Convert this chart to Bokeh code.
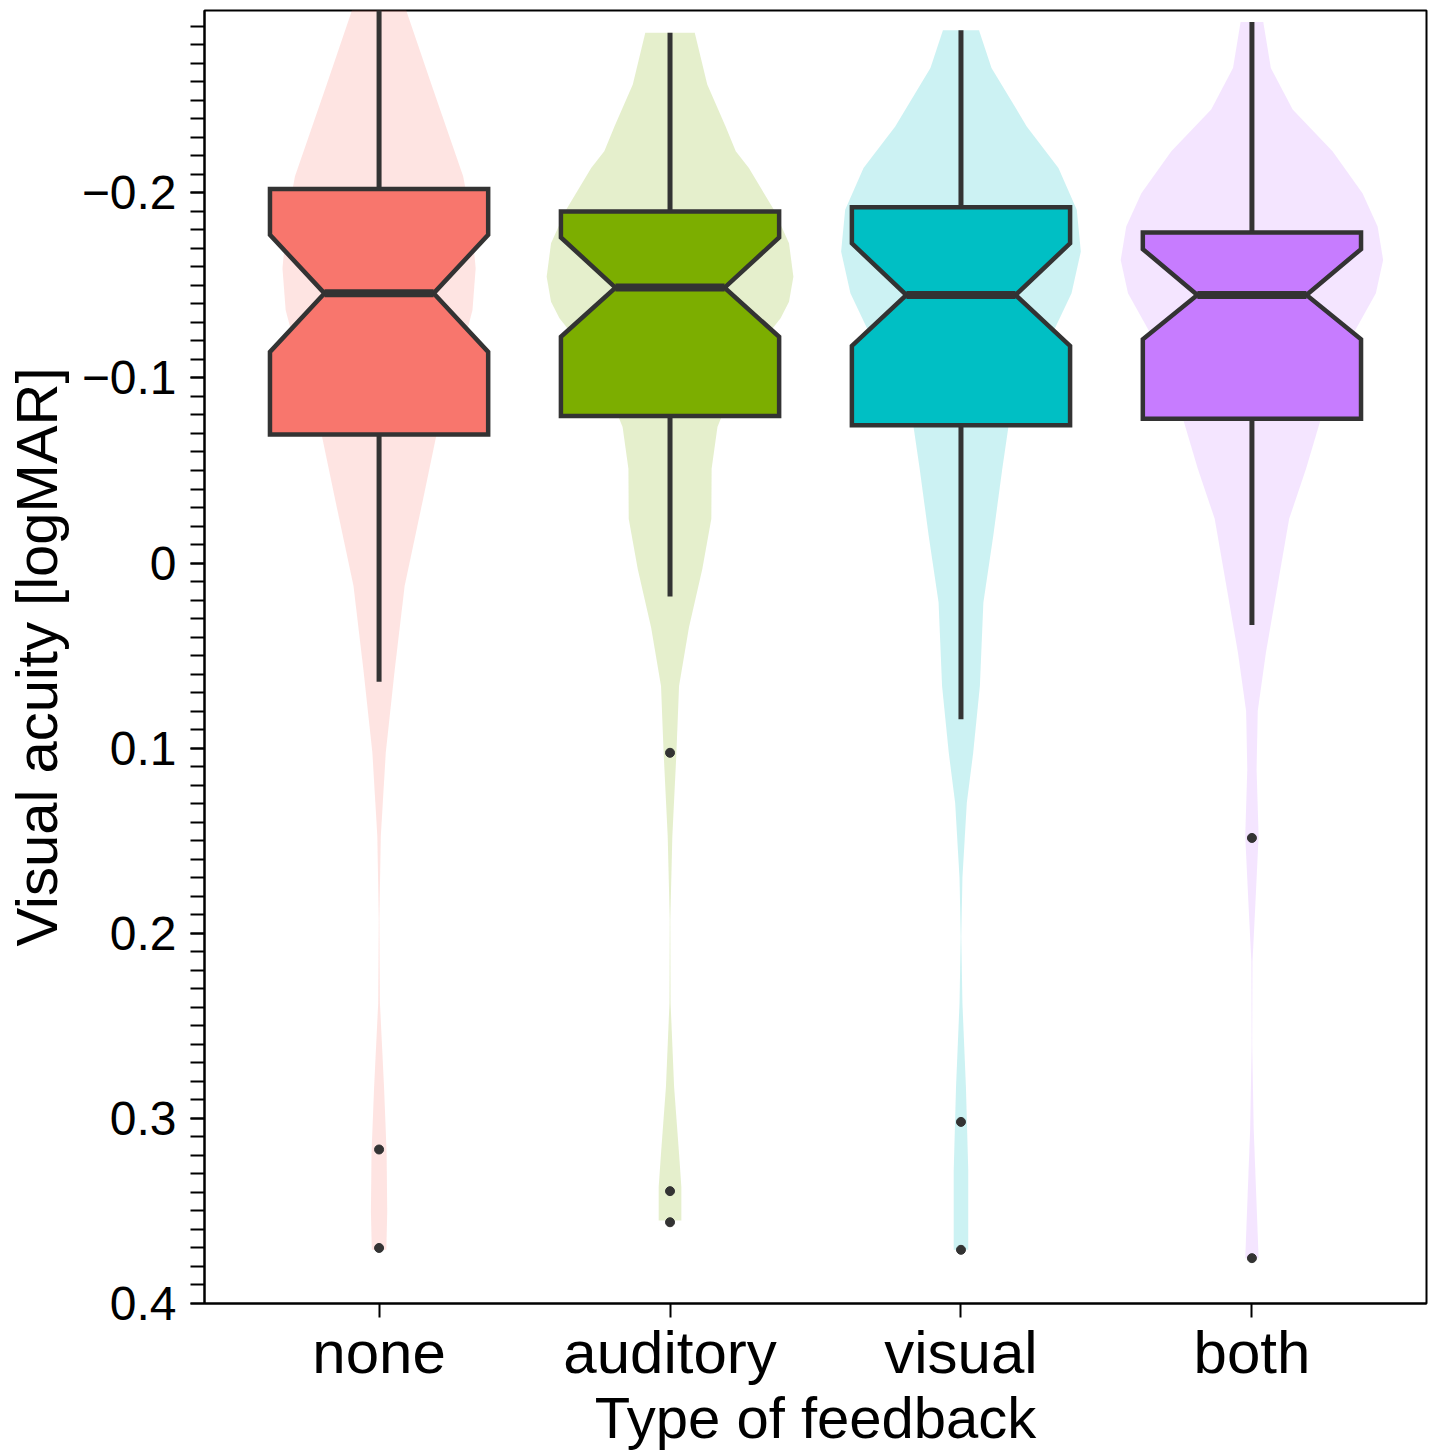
from bokeh.plotting import figure
from bokeh.models import Range1d, FixedTicker, CustomJSTickFormatter
from bokeh.embed import file_html
from bokeh.resources import INLINE

# ---------------- data ----------------
categories = ["none", "auditory", "visual", "both"]
fill_colors = ["#F8766D", "#7CAE00", "#00BFC4", "#C77CFF"]

# violin profiles: y positions (logMAR) and half widths (category units)
none_vy = [-0.312, -0.2973, -0.2585, -0.2089, -0.1863, -0.1592, -0.1366, -0.1141, -0.0915, -0.0690,
           -0.0329, 0.0123, 0.0574, 0.1025, 0.1476, 0.1927, 0.2378, 0.2829, 0.3190, 0.3506, 0.3710]
none_hw = [0.070, 0.096, 0.180, 0.289, 0.316, 0.332, 0.321, 0.283, 0.237, 0.197,
           0.149, 0.088, 0.054, 0.023, 0.006, 0.001, 0.003, 0.017, 0.026, 0.028, 0.025]

aud_vy = [-0.2865, -0.2585, -0.2359, -0.2224, -0.2134, -0.1908, -0.1727, -0.1547, -0.1412, -0.1322,
          -0.1141, -0.0915, -0.0735, -0.0509, -0.0239, 0.0032, 0.0348, 0.0664, 0.1025, 0.1476,
          0.1927, 0.2378, 0.2829, 0.3190, 0.3371, 0.3552]
aud_hw = [0.085, 0.128, 0.191, 0.226, 0.271, 0.357, 0.409, 0.424, 0.409, 0.380,
          0.289, 0.209, 0.163, 0.143, 0.142, 0.111, 0.065, 0.031, 0.022, 0.008,
          0.001, 0.002, 0.014, 0.031, 0.039, 0.039]

vis_vy = [-0.2878, -0.2675, -0.2359, -0.2134, -0.1908, -0.1683, -0.1457, -0.1232, -0.1006, -0.0735,
          -0.0509, -0.0148, 0.0213, 0.0664, 0.1025, 0.1296, 0.1702, 0.2017, 0.2378, 0.2829,
          0.3281, 0.3710]
vis_hw = [0.062, 0.105, 0.226, 0.335, 0.398, 0.412, 0.380, 0.312, 0.231, 0.163,
          0.142, 0.111, 0.077, 0.065, 0.042, 0.020, 0.005, 0.001, 0.005, 0.017,
          0.025, 0.025]

both_vy = [-0.2923, -0.2675, -0.2450, -0.2224, -0.1998, -0.1818, -0.1637, -0.1457, -0.1232, -0.1006,
           -0.0780, -0.0509, -0.0239, 0.0123, 0.0484, 0.0799, 0.1115, 0.1476, 0.1837, 0.2153,
           0.2604, 0.3055, 0.3506, 0.3755]
both_hw = [0.039, 0.065, 0.140, 0.277, 0.380, 0.432, 0.451, 0.426, 0.346, 0.277,
           0.237, 0.186, 0.128, 0.088, 0.048, 0.020, 0.016, 0.023, 0.012, 0.002,
           0.001, 0.006, 0.017, 0.023]

# box statistics (top of box on screen = smaller logMAR)
box_upper = [-0.2021, -0.1899, -0.1922, -0.1786]
notch_upper = [-0.1773, -0.1759, -0.1727, -0.1696]
medians = [-0.1457, -0.1488, -0.1448, -0.1448]
notch_lower = [-0.1141, -0.1222, -0.1173, -0.1209]
box_lower = [-0.0695, -0.0794, -0.0744, -0.0780]
whisker_upper = [-0.312, -0.2865, -0.2878, -0.2923]
whisker_lower = [0.0641, 0.0181, 0.0844, 0.0335]
outliers = [[0.3168, 0.3700], [0.1025, 0.3393, 0.3561], [0.3019, 0.3710], [0.1485, 0.3755]]

y_major_ticks = [-0.2, -0.1, 0.0, 0.1, 0.2, 0.3, 0.4]
y_minor_ticks = [round(-0.29 + 0.01 * i, 2) for i in range(70)]

violin_y = [none_vy, aud_vy, vis_vy, both_vy]
violin_hw = [none_hw, aud_hw, vis_hw, both_hw]

# ---------------- figure ----------------
BOX_W = 0.75
NOTCH_W = 0.375
DARK = "#333333"
FONT = "Liberation Sans"

p = figure(width=1434, height=1454,
           x_range=Range1d(0.4, 4.6), y_range=Range1d(0.4, -0.2985),
           output_backend="svg", toolbar_location=None,
           min_border_left=204, min_border_right=8, min_border_top=10, min_border_bottom=151)
p.xgrid.visible = False
p.ygrid.visible = False
p.outline_line_color = "black"
p.outline_line_width = 2
p.outline_line_alpha = 1.0
p.background_fill_color = "white"
p.border_fill_color = "white"

for i, cat in enumerate(categories):
    c = i + 1
    vy = violin_y[i]
    hw = violin_hw[i]
    xs = [c - w for w in hw] + [c + w for w in reversed(hw)]
    ys = list(vy) + list(reversed(vy))
    p.patch(xs, ys, fill_color=fill_colors[i], fill_alpha=0.2, line_color=None)

for i, cat in enumerate(categories):
    c = i + 1
    p.segment(x0=[c, c], y0=[box_upper[i], box_lower[i]],
              x1=[c, c], y1=[whisker_upper[i], whisker_lower[i]],
              line_color=DARK, line_width=5, line_cap="butt")

for i, cat in enumerate(categories):
    c = i + 1
    hb = BOX_W / 2
    hn = NOTCH_W / 2
    bx = [c - hb, c + hb, c + hb, c + hn, c + hb, c + hb, c - hb, c - hb, c - hn, c - hb]
    by = [box_upper[i], box_upper[i], notch_upper[i], medians[i], notch_lower[i],
          box_lower[i], box_lower[i], notch_lower[i], medians[i], notch_upper[i]]
    p.patch(bx, by, fill_color=fill_colors[i], line_color=DARK, line_width=4.5, line_join="miter")
    p.segment(x0=[c - hn], y0=[medians[i]], x1=[c + hn], y1=[medians[i]],
              line_color=DARK, line_width=8, line_cap="butt")

for i, cat in enumerate(categories):
    c = i + 1
    p.scatter(x=[c] * len(outliers[i]), y=outliers[i], size=9, color=DARK, marker="circle")

# ---------------- axes ----------------
yax = p.yaxis[0]
yax.ticker = FixedTicker(ticks=y_major_ticks, minor_ticks=y_minor_ticks)
yax.formatter = CustomJSTickFormatter(code="""
    if (Math.abs(tick) < 1e-9) { return "0"; }
    const s = Math.abs(tick).toFixed(1);
    return (tick < 0 ? "\u2212" : "") + s;
""")
yax.axis_label = "Visual acuity [logMAR]"

xax = p.xaxis[0]
xax.ticker = FixedTicker(ticks=[1, 2, 3, 4], minor_ticks=[])
xax.formatter = CustomJSTickFormatter(args=dict(labels=categories), code="""
    return labels[Math.round(tick) - 1];
""")
xax.axis_label = "Type of feedback"

for ax in (xax, yax):
    ax.axis_line_color = "black"
    ax.axis_line_width = 2
    ax.major_tick_line_color = "black"
    ax.major_tick_line_width = 2
    ax.major_tick_out = 14
    ax.major_tick_in = 0
    ax.minor_tick_line_color = "black"
    ax.minor_tick_line_width = 2
    ax.minor_tick_out = 14
    ax.minor_tick_in = 0
    ax.major_label_text_font = FONT
    ax.major_label_text_color = "black"
    ax.axis_label_text_font = FONT
    ax.axis_label_text_font_style = "normal"
    ax.axis_label_text_color = "black"
    ax.axis_label_text_font_size = "58px"

yax.major_label_text_font_size = "48px"
yax.major_label_standoff = 14
yax.axis_label_standoff = 10
xax.major_label_text_font_size = "60px"
xax.major_label_standoff = 1
xax.axis_label_standoff = -4

open("out.html", "w").write(file_html(p, INLINE))
